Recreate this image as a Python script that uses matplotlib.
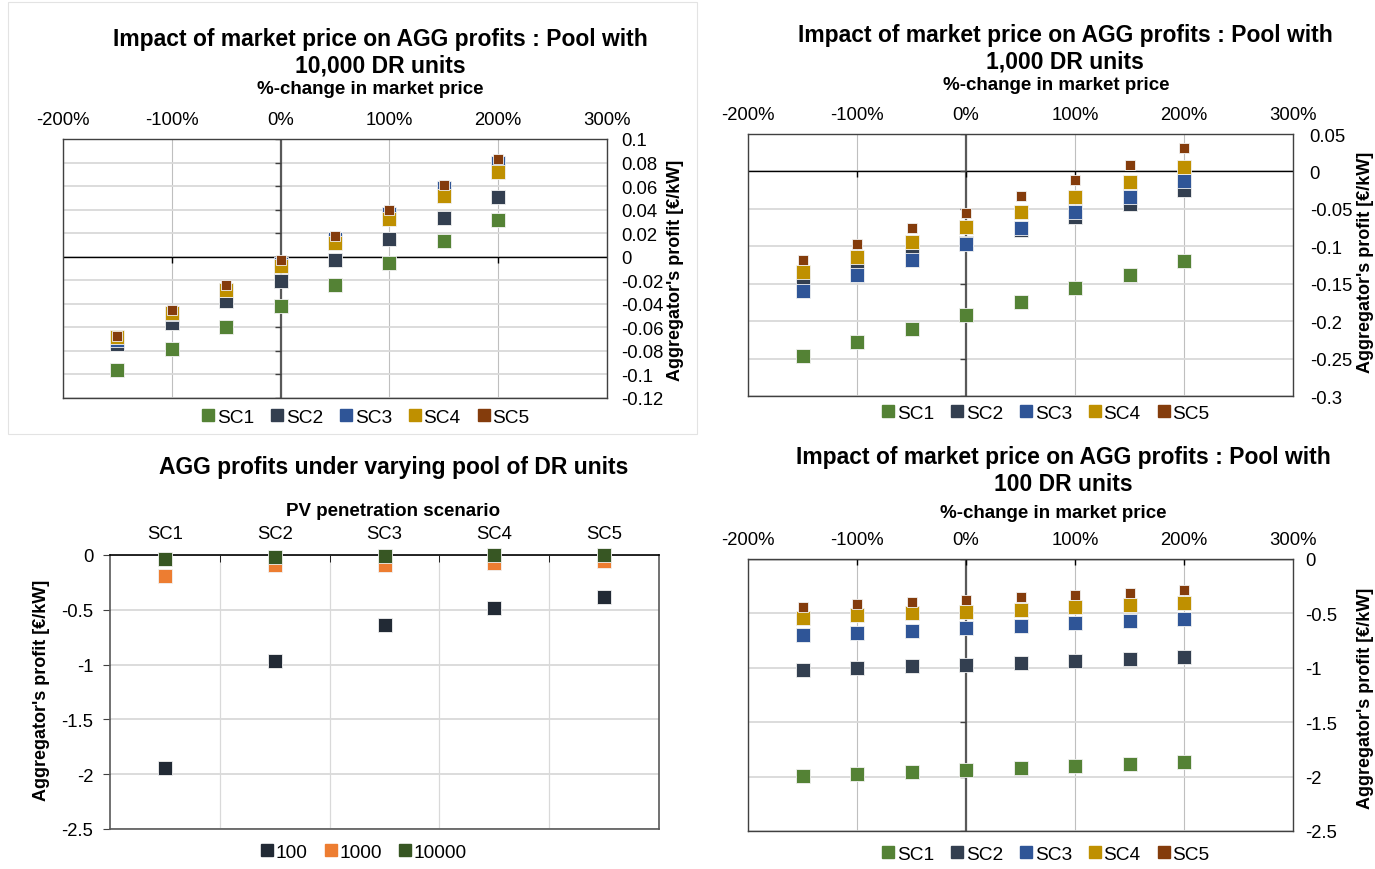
import numpy as np
import matplotlib.pyplot as plt
from matplotlib.lines import Line2D
from matplotlib.patches import Rectangle
from matplotlib.ticker import FuncFormatter

plt.rcParams['font.family'] = ['Liberation Sans', 'DejaVu Sans']

# %-change in market price
price_change = [-150, -100, -50, 0, 50, 100, 150, 200]
x_ticks = [-200, -100, 0, 100, 200, 300]

# pool with 10,000 DR units
p10000_sc1 = [-0.096, -0.078, -0.060, -0.042, -0.024, -0.005, 0.013, 0.031]
p10000_sc2 = [-0.074, -0.056, -0.038, -0.021, -0.003, 0.015, 0.033, 0.051]
p10000_sc3 = [-0.071, -0.049, -0.028, -0.006, 0.015, 0.036, 0.058, 0.080]
p10000_sc4 = [-0.068, -0.048, -0.028, -0.008, 0.012, 0.032, 0.052, 0.072]
p10000_sc5 = [-0.067, -0.045, -0.024, -0.003, 0.018, 0.040, 0.061, 0.083]

# pool with 1,000 DR units
p1000_sc1 = [-0.247, -0.228, -0.210, -0.192, -0.174, -0.156, -0.138, -0.119]
p1000_sc2 = [-0.149, -0.131, -0.113, -0.096, -0.078, -0.061, -0.043, -0.025]
p1000_sc3 = [-0.160, -0.139, -0.118, -0.097, -0.076, -0.054, -0.034, -0.013]
p1000_sc4 = [-0.134, -0.114, -0.094, -0.074, -0.054, -0.034, -0.014, 0.006]
p1000_sc5 = [-0.118, -0.097, -0.076, -0.055, -0.033, -0.012, 0.009, 0.031]

# pool with 100 DR units
p100_sc1 = [-1.990, -1.973, -1.955, -1.936, -1.918, -1.900, -1.881, -1.863]
p100_sc2 = [-1.020, -1.002, -0.984, -0.974, -0.956, -0.938, -0.919, -0.901]
p100_sc3 = [-0.702, -0.683, -0.665, -0.637, -0.619, -0.591, -0.573, -0.555]
p100_sc4 = [-0.539, -0.518, -0.499, -0.484, -0.466, -0.438, -0.420, -0.401]
p100_sc5 = [-0.438, -0.417, -0.395, -0.377, -0.352, -0.334, -0.312, -0.288]

# profits per PV scenario and pool size
scenarios = ['SC1', 'SC2', 'SC3', 'SC4', 'SC5']
pool_sizes = ['100', '1000', '10000']
profit_100 = [-1.94, -0.967, -0.636, -0.483, -0.383]
profit_1000 = [-0.19, -0.094, -0.094, -0.076, -0.058]
profit_10000 = [-0.037, -0.021, -0.005, -0.004, -0.004]

sc_colors = ['#548235', '#333F50', '#2F5597', '#BF9000', '#843C0C']
pool_colors = ['#222A35', '#ED7D31', '#375623']

W, H = 1375, 870


def fx(x):
    return x / W


def fy(y):
    return 1 - y / H


def box(x0, y0, x1, y1):
    return [fx(x0), fy(y1), (x1 - x0) / W, (y1 - y0) / H]


def num_fmt(v, pos=None):
    v = round(v, 4)
    if v == 0:
        return '0'
    return f'{v:g}'


def square(color, size=8):
    return Line2D([], [], linestyle='none', marker='s', markersize=size,
                  markerfacecolor=color, markeredgecolor=color)


fig = plt.figure(figsize=(13.75, 8.7), dpi=100)

# faint outline of the first chart
fig.patches.append(Rectangle((fx(8), fy(435)), (697 - 8) / W, (435 - 3) / H,
                             transform=fig.transFigure, fill=False,
                             edgecolor='#E3E3E3', lw=0.8))


def price_panel(rect, series, ylim, ystep, title, tpos, xlab_pos, ylab_pos,
                leg_pos, ypad):
    ax = fig.add_axes(box(*rect))
    ax.set_xlim(-200, 300)
    ax.set_ylim(*ylim)
    ax.set_xticks(x_ticks)
    ax.xaxis.set_major_formatter(FuncFormatter(lambda v, p: f'{v:.0f}%'))
    ax.xaxis.tick_top()
    yt = np.arange(ylim[0], ylim[1] + ystep / 2, ystep)
    ax.set_yticks(yt)
    ax.yaxis.set_major_formatter(FuncFormatter(num_fmt))
    ax.yaxis.tick_right()
    ax.tick_params(axis='x', length=0, pad=8, labelsize=13.3)
    ax.tick_params(axis='y', length=0, pad=ypad, labelsize=13.3)
    ax.grid(axis='y', color='#D9D9D9', lw=1.3, zorder=0)
    ax.grid(axis='x', color='#BFBFBF', lw=0.8, zorder=0)
    ax.set_axisbelow(True)
    for sp in ax.spines.values():
        sp.set_color('#404040')
        sp.set_linewidth(1.0)
    ax.axhline(0, color='black', lw=1.0, zorder=1)
    ax.axvline(0, color='#595959', lw=1.6, zorder=1)
    # tick marks on the crossing axes
    ax.plot(x_ticks[1:-1], [0] * 4, linestyle='none', marker=3,
            markersize=4, color='black', zorder=1)
    ax.plot([0] * len(yt), yt, linestyle='none', marker=0,
            markersize=4, color='#404040', zorder=1)

    for i, (vals, col) in enumerate(zip(series, sc_colors)):
        size = 7.5 if i == 4 else 10.5
        ax.plot(price_change, vals, linestyle='none', marker='s',
                markersize=size, markerfacecolor=col,
                markeredgecolor='#F2F2F2', markeredgewidth=0.6, zorder=3 + i)

    fig.text(fx(tpos[0]), fy(tpos[1]), title, ha='center', va='center',
             fontsize=16.5, fontweight='bold', linespacing=1.22)
    fig.text(fx(xlab_pos[0]), fy(xlab_pos[1]), '%-change in market price',
             ha='center', va='center', fontsize=13.5, fontweight='bold')
    fig.text(fx(ylab_pos[0]), fy(ylab_pos[1]), "Aggregator's profit [€/kW]",
             ha='center', va='center', rotation=90, fontsize=13,
             fontweight='bold')
    fig.legend([square(c) for c in sc_colors], scenarios, loc='center',
               bbox_to_anchor=(fx(leg_pos[0]), fy(leg_pos[1])), ncol=5,
               frameon=False, fontsize=13.8, handlelength=0.6,
               handletextpad=0.15, columnspacing=0.9, borderpad=0)
    return ax


price_panel((63, 140, 607, 399),
            [p10000_sc1, p10000_sc2, p10000_sc3, p10000_sc4, p10000_sc5],
            (-0.12, 0.1), 0.02,
            'Impact of market price on AGG profits : Pool with\n10,000 DR units',
            (380, 53), (370, 90), (676, 270), (366, 418), 10)

price_panel((748, 135, 1293, 397),
            [p1000_sc1, p1000_sc2, p1000_sc3, p1000_sc4, p1000_sc5],
            (-0.3, 0.05), 0.05,
            'Impact of market price on AGG profits : Pool with\n1,000 DR units',
            (1065, 49), (1056, 86), (1366, 262), (1046, 414), 12)

price_panel((748, 560, 1293, 832),
            [p100_sc1, p100_sc2, p100_sc3, p100_sc4, p100_sc5],
            (-2.5, 0), 0.5,
            'Impact of market price on AGG profits : Pool with\n100 DR units',
            (1063, 471), (1053, 514), (1366, 698), (1046, 855), 9)

# profits by PV penetration scenario
ax3 = fig.add_axes(box(110, 556, 659, 830))
pos = np.arange(len(scenarios))
ax3.set_xlim(-0.5, 4.5)
ax3.set_ylim(-2.5, 0)
ax3.set_xticks(pos)
ax3.set_xticklabels(scenarios)
ax3.set_xticks(pos[:-1] + 0.5, minor=True)
ax3.xaxis.tick_top()
ax3.tick_params(axis='x', which='major', length=0, pad=9, labelsize=13.3)
ax3.tick_params(axis='x', which='minor', direction='in', length=5,
                color='black')
ax3.set_yticks(np.arange(-2.5, 0.01, 0.5))
ax3.yaxis.set_major_formatter(FuncFormatter(num_fmt))
ax3.tick_params(axis='y', length=5, pad=7, labelsize=13.3, color='#404040')
ax3.grid(axis='y', color='#D9D9D9', lw=1.3)
ax3.grid(axis='x', which='minor', color='#D9D9D9', lw=0.9)
ax3.set_axisbelow(True)
for name, sp in ax3.spines.items():
    sp.set_color('black' if name == 'top' else '#595959')
    sp.set_linewidth(1.2)
for i, (vals, col) in enumerate(zip([profit_100, profit_1000, profit_10000],
                                     pool_colors)):
    ax3.plot(pos, vals, linestyle='none', marker='s', markersize=10.5,
             markerfacecolor=col, markeredgecolor='#F2F2F2',
             markeredgewidth=0.6, zorder=3 + i, clip_on=False)

fig.text(fx(394), fy(468), 'AGG profits under varying pool of DR units',
         ha='center', va='center', fontsize=16.5, fontweight='bold')
fig.text(fx(393), fy(511), 'PV penetration scenario', ha='center',
         va='center', fontsize=13.5, fontweight='bold')
fig.text(fx(42), fy(690), "Aggregator's profit [€/kW]", ha='center',
         va='center', rotation=90, fontsize=13, fontweight='bold')
fig.legend([square(c) for c in pool_colors], pool_sizes, loc='center',
           bbox_to_anchor=(fx(364), fy(853)), ncol=3, frameon=False,
           fontsize=13.8, handlelength=0.6, handletextpad=0.15,
           columnspacing=0.9, borderpad=0)

fig.savefig('out.png', dpi=100)
